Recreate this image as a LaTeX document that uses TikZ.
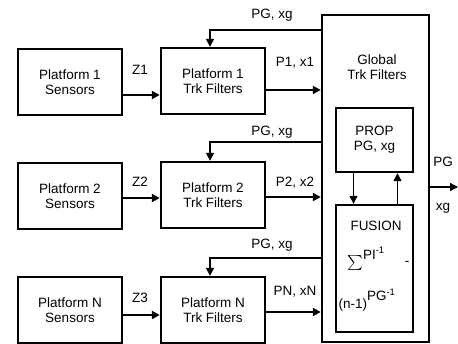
\documentclass[tikz,border=0pt]{standalone}
\usepackage{fontspec}
\setmainfont{Liberation Sans}
\usetikzlibrary{arrows.meta}

\begin{document}
\begin{tikzpicture}[
                x=1pt, y=-1pt,
                every node/.style={inner sep=1pt, font=\fontsize{13.5}{15}\selectfont},
                box/.style={draw, line width=2.4pt, minimum width=104pt, minimum height=66pt, align=center},
                arr/.style={line width=2pt, -{Triangle[length=8pt,width=8pt]}},
                fb/.style={line width=1.4pt, -{Triangle[length=8pt,width=8pt]}}
            ]
            \useasboundingbox (0,0) rectangle (458,343);

            % platforms
            \node[box] (s1) at (70, 82) {Platform 1\\Sensors};
            \node[box] (t1) at (213, 81) {Platform 1\\Trk Filters};
            \node[box] (s2) at (70, 196) {Platform 2\\Sensors};
            \node[box] (t2) at (213, 195) {Platform 2\\Trk Filters};
            \node[box] (sn) at (70, 310) {Platform N\\Sensors};
            \node[box] (tn) at (213, 310) {Platform N\\Trk Filters};

            % global filters
            \node[draw, line width=2.4pt, minimum width=107pt, minimum height=327pt] (g) at (375.5, 178.5) {};
            \node[align=center] (gt) at (377, 67) {Global\\Trk Filters};
            \node[box, minimum width=77pt, minimum height=64pt] (prop) at (374.5, 140) {PROP\\PG, xg};
            \node[draw, line width=2.4pt, minimum width=77pt, minimum height=127pt] (fus) at (374.5, 268.5) {};
            \node (fl) at (376, 226) {FUSION};
            \node (sum) at (366, 259) {\scalebox{1.5}{$\sum$}\raisebox{1.3ex}{PI\textsuperscript{-1}}};
            \node (mn) at (407, 263) {-};
            \node (inv) at (367, 300) {(n-1)\raisebox{1.1ex}{PG\textsuperscript{-1}}};

            \draw[fb] ([xshift=-21pt]prop.south) -- ([xshift=-21pt]fus.north);
            \draw[fb] ([xshift=23pt]fus.north) -- ([xshift=23pt]prop.south);

            % output
            \coordinate (out) at (458, 187);
            \draw[fb] (g.east |- out) -- (out);
            \node (opg) at (443, 162) {PG};
            \node (oxg) at (443, 208) {xg};

            % measurements
            \draw[arr] ([yshift=-13pt]s1.east) -- ([yshift=-13pt]s1.east -| t1.west);
            \draw[arr] ([yshift=-2pt]s2.east) -- ([yshift=-2pt]s2.east -| t2.west);
            \draw[arr] ([yshift=-5pt]sn.east) -- ([yshift=-5pt]sn.east -| tn.west);
            \node (z1) at (140, 70) {Z1};
            \node (z2) at (140, 182) {Z2};
            \node (z3) at (140, 298) {Z3};

            % local tracks to global
            \draw[arr] ([yshift=-9pt]t1.east) -- ([yshift=-9pt]t1.east -| g.west);
            \draw[arr] ([yshift=-2pt]t2.east) -- ([yshift=-2pt]t2.east -| g.west);
            \draw[arr] ([yshift=-2pt]tn.east) -- ([yshift=-2pt]tn.east -| g.west);
            \node (p1) at (295, 63) {P1, x1};
            \node (p2) at (295, 183) {P2, x2};
            \node (pn) at (295, 292) {PN, xN};

            % feedback
            \draw[fb] (g.west |- 0,30) -| ([xshift=-3pt]t1.north);
            \draw[fb] (g.west |- 0,142) -| ([xshift=-3pt]t2.north);
            \draw[fb] (g.west |- 0,258) -| ([xshift=-3pt]tn.north);
            \node (f1) at (272, 15) {PG, xg};
            \node (f2) at (272, 132) {PG, xg};
            \node (f3) at (272, 245) {PG, xg};
        \end{tikzpicture}
\end{document}
